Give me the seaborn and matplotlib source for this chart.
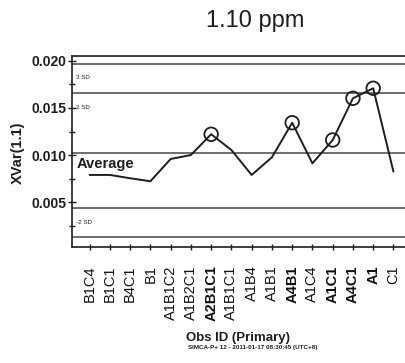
import matplotlib
matplotlib.use("Agg")
import matplotlib.pyplot as plt
import seaborn as sns
import pandas as pd
from matplotlib.ticker import MultipleLocator

obs_ids = ["B1C4", "B1C1", "B4C1", "B1", "A1B1C2", "A1B2C1", "A2B1C1", "A1B1C1",
           "A1B4", "A1B1", "A4B1", "A1C4", "A1C1", "A4C1", "A1", "C1"]
xvar = [0.0079, 0.0079, 0.00755, 0.00723, 0.00959, 0.01001, 0.01221, 0.01054,
        0.0079, 0.00977, 0.01343, 0.00913, 0.0116, 0.01602, 0.01708, 0.00825]
highlight = ["A2B1C1", "A4B1", "A1C1", "A4C1", "A1"]
limit_values = [0.01965, 0.01655, 0.01026, 0.00437, 0.00130]
limit_labels = ["3 SD", "2 SD", "", "-2 SD", ""]

sns.set_style("ticks")
plt.rcParams['font.family'] = ['Liberation Sans', 'DejaVu Sans']

df = pd.DataFrame({"obs": obs_ids, "xvar": xvar})
df_h = df[df["obs"].isin(highlight)]

fig = plt.figure(figsize=(4.05, 3.63), dpi=100)
ax = fig.add_axes([72/405, 1-246.7/363, 1-72/405, (246.7-55.7)/363])

ink = "#1e1e1e"
for v in limit_values:
    ax.axhline(v, color="#555555", lw=1.2, zorder=1)

sns.lineplot(data=df, x="obs", y="xvar", sort=False, ax=ax, color=ink, lw=1.4, zorder=3)
sns.scatterplot(data=df_h, x="obs", y="xvar", ax=ax, s=95, facecolor="none",
                edgecolor=ink, linewidth=1.3, zorder=4)

for v, lab in zip(limit_values, limit_labels):
    if lab:
        ax.annotate(lab, xy=(0, v), xycoords=("axes fraction", "data"),
                    xytext=(3, -10), textcoords="offset points",
                    fontsize=4.5, ha="left", va="center", color=ink)
ax.annotate("Average", xy=(0, limit_values[2]), xycoords=("axes fraction", "data"),
            xytext=(3, -8.5), textcoords="offset points",
            fontsize=10.5, fontweight="bold", ha="left", va="center", color=ink)

ax.set_xlim(-0.87, 15.57)
ax.set_ylim(0.0003, 0.02053)
ax.yaxis.set_major_locator(MultipleLocator(0.005))
ax.yaxis.set_minor_locator(MultipleLocator(0.0025))
ax.set_yticks([0.005, 0.010, 0.015, 0.020])
ax.set_yticklabels(["0.005", "0.010", "0.015", "0.020"], fontsize=10, fontweight="bold", color=ink)
ax.tick_params(axis="y", which="major", direction="inout", length=6, width=1, pad=1, color=ink)
ax.tick_params(axis="y", which="minor", direction="inout", length=5, width=1, color=ink)
ax.tick_params(axis="x", direction="inout", length=5, width=1, pad=11, color=ink)
ax.set_xticks(range(len(obs_ids)))
ax.set_xticklabels(obs_ids, rotation=90, fontsize=10.5, color="#111111", va="top")
for t in ax.get_xticklabels():
    t.set_fontweight("bold" if t.get_text() in highlight else "normal")

for s in ["left", "bottom", "top"]:
    ax.spines[s].set_color(ink)
    ax.spines[s].set_linewidth(1.2)
ax.spines["right"].set_visible(False)

ax.set_xlabel("")
ax.set_ylabel("XVar(1.1)", fontsize=10.5, fontweight="bold", color=ink)
ax.yaxis.set_label_coords(-0.141, 0.49)

fig.text(255/405, 1-21/363, "1.10 ppm", fontsize=17, ha="center", va="center", color=ink)
fig.text(238/405, 1-338/363, "Obs ID (Primary)", fontsize=9.5, fontweight="bold",
         ha="center", va="center", color=ink)
fig.text(253/405, 1-347.5/363, "SIMCA-P+ 12 - 2011-01-17 08:30:45 (UTC+8)", fontsize=4.5,
         fontweight="bold", ha="center", va="center", color=ink)

fig.savefig("out.png", dpi=100)
